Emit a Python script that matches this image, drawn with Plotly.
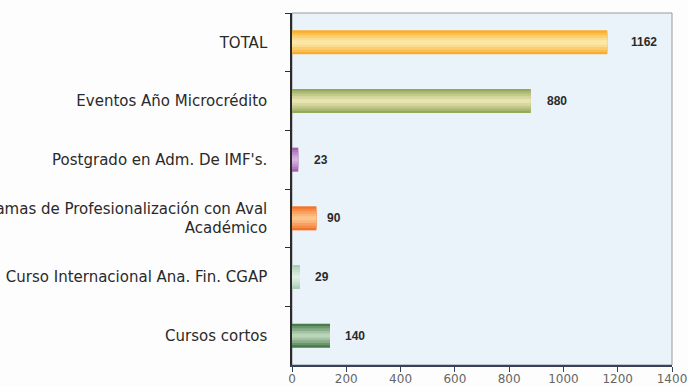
import plotly.graph_objects as go

# Participants per training programme
categories = [
    "TOTAL",
    "Eventos Año Microcrédito",
    "Postgrado en Adm. De IMF's.",
    "Programas de Profesionalización con Aval<br>Académico",
    "Curso Internacional Ana. Fin. CGAP",
    "Cursos cortos",
]
values = [1162, 880, 23, 90, 29, 140]
x_ticks = [0, 200, 400, 600, 800, 1000, 1200, 1400]

# bar colours: edge tone and highlight tone per category
edge_colors = ["#F7AE2C", "#95A95A", "#A060AC", "#F27328", "#ABCDB3", "#487A4C"]
light_colors = ["#FDE7A8", "#E8E4B2", "#D8B2DE", "#FCC48C", "#E0EFE3", "#BAD4BA"]
label_shift = [22, 14, 14, 9, 13, 13]


def blend(c1, c2, t):
    a = [int(c1[i:i + 2], 16) for i in (1, 3, 5)]
    b = [int(c2[i:i + 2], 16) for i in (1, 3, 5)]
    return "#" + "".join(f"{round(x + (y - x) * t):02X}" for x, y in zip(a, b))


# stacked overlay layers give each bar a shaded, cylindrical look
layers = [(0.41, 0.0), (0.33, 0.3), (0.25, 0.55), (0.16, 0.8), (0.07, 1.0)]

fig = go.Figure()
for width, t in layers:
    fig.add_trace(go.Bar(
        x=values, y=categories, orientation="h",
        marker=dict(color=[blend(e, l, t) for e, l in zip(edge_colors, light_colors)],
                    line=dict(width=0)),
        width=width, hoverinfo="skip", showlegend=False,
    ))

for cat, val, dx in zip(categories, values, label_shift):
    fig.add_annotation(
        x=val, y=cat, text=f"<b>{val}</b>", showarrow=False,
        xanchor="left", xshift=dx,
        font=dict(family="Liberation Sans, Arial", size=12, color="#2a2a2a"),
    )

# plot frame
fig.add_shape(type="rect", xref="paper", yref="paper", x0=0, y0=0, x1=1, y1=1,
              line=dict(color="#9a9a9a", width=1), layer="below")

fig.update_layout(
    width=688, height=387,
    margin=dict(l=292, r=16, t=13, b=22),
    barmode="overlay",
    paper_bgcolor="#fdfdfd",
    plot_bgcolor="#EAF2FA",
    font=dict(family="DejaVu Sans", color="#2b2b2b"),
    xaxis=dict(
        range=[0, 1400], tickvals=x_ticks, showgrid=False, zeroline=False,
        showline=True, linecolor="#34425e", linewidth=1.5,
        ticks="outside", ticklen=5, tickcolor="#34425e",
        tickfont=dict(family="DejaVu Sans", size=12, color="#666666"),
        ticklabelstandoff=-3,
        automargin=False,
    ),
    yaxis=dict(
        categoryorder="array", categoryarray=categories, autorange="reversed",
        showgrid=False, zeroline=False,
        showline=True, linecolor="#2b2b2b", linewidth=1.5,
        ticks="outside", tickson="boundaries", ticklen=5, tickcolor="#2b2b2b",
        tickfont=dict(family="DejaVu Sans", size=15, color="#2a2a2a"),
        ticklabelstandoff=20,
        automargin=False,
    ),
)

fig.write_html("out.html")
